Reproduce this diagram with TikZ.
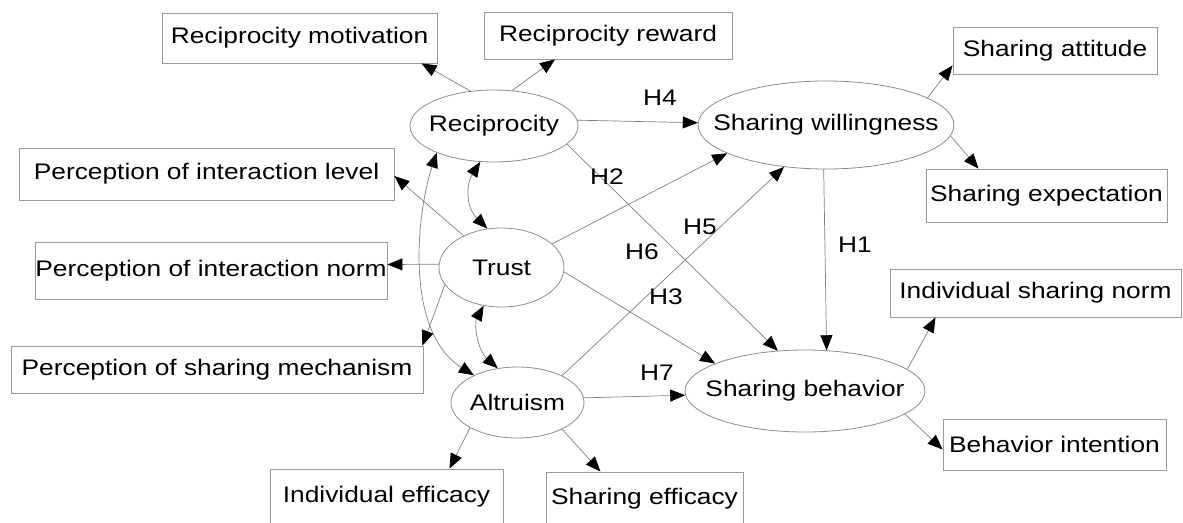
\documentclass[tikz,border=0pt]{standalone}
\usepackage{fontspec}
\setmainfont{Liberation Sans}[FakeStretch=1.17]
\usetikzlibrary{shapes.geometric,arrows.meta}
\begin{document}
\begin{tikzpicture}[x=1pt,y=-1pt,
  lbfont/.style={font=\fontsize{22.5}{27}\selectfont},
  obox/.style={draw=black!40, line width=0.8pt, rectangle, inner sep=0pt, lbfont, text=black},
  lat/.style={draw=black!45, line width=0.8pt, ellipse, inner sep=0pt, lbfont, text=black},
  arr/.style={draw=black!50, line width=0.7pt, -{Triangle[length=15pt,width=12pt,color=black]}},
  darr/.style={draw=black!50, line width=0.7pt, {Triangle[length=15pt,width=12pt,color=black]}-{Triangle[length=15pt,width=12pt,color=black]}},
  hlab/.style={lbfont, inner sep=0pt, text=black}
]
\useasboundingbox (0,0) rectangle (1183,522);
\clip (0,0) rectangle (1183,522);
\fill[white] (0,0) rectangle (1183,522);

% latent variables
\node[lat, minimum width=168pt, minimum height=72pt] (rec) at (494,126) {\makebox[0pt]{Reciprocity}};
\node[lat, minimum width=256pt, minimum height=88pt] (sw) at (826,125) {\makebox[0pt]{Sharing willingness}};
\node[lat, minimum width=125pt, minimum height=79pt] (trust) at (501.5,267.5) {\makebox[0pt]{Trust}};
\node[lat, minimum width=133pt, minimum height=71pt] (alt) at (517.5,402.5) {\makebox[0pt]{Altruism}};
\node[lat, minimum width=240pt, minimum height=82pt] (sb) at (805,391) {\makebox[0pt]{Sharing behavior}};

% indicators
\node[obox, minimum width=275pt, minimum height=50pt] (rm) at (299.5,38) {Reciprocity motivation};
\node[obox, minimum width=248pt, minimum height=47pt] (rr) at (608,35.5) {Reciprocity reward};
\node[obox, minimum width=204pt, minimum height=47pt] (sa) at (1055,50.5) {Sharing attitude};
\node[obox, minimum width=241pt, minimum height=53pt] (se) at (1046.5,195.5) {Sharing expectation};
\node[obox, minimum width=375pt, minimum height=52pt] (pil) at (206.5,174) {Perception of interaction level};
\node[obox, minimum width=352pt, minimum height=57pt] (pin) at (211,270.5) {Perception of interaction norm};
\node[obox, minimum width=412pt, minimum height=47pt] (psm) at (217,369.5) {Perception of sharing mechanism};
\node[obox, minimum width=291pt, minimum height=48pt] (isn) at (1035.5,293) {Individual sharing norm};
\node[obox, minimum width=223pt, minimum height=51pt] (bi) at (1054.5,444.5) {Behavior intention};
\node[obox, minimum width=233pt, minimum height=55pt] (ie) at (386.5,496.5) {Individual efficacy};
\node[obox, minimum width=197pt, minimum height=53pt] (se2) at (644.5,498.5) {Sharing efficacy};

% measurement arrows
\draw[arr] (rec.124) -- ([xshift=122pt]rm.south);
\draw[arr] (rec.63) -- ([xshift=-53pt]rr.south);
\draw[arr] (sw.15) -- ([yshift=9pt]sa.south west);
\draw[arr] (sw.-5.5) -- ([xshift=-68pt]se.north);
\draw[arr] (trust.140) -- ([yshift=-2pt]pil.east);
\draw[arr] (trust.177.7) -- ([yshift=6pt]pin.east);
\draw[arr] (trust.197) -- ([xshift=-1pt]psm.north east);
\draw[arr] (alt.208) -- ([xshift=63pt]ie.north);
\draw[arr] (alt.-31.7) -- ([xshift=-44pt]se2.north);
\draw[arr] (sb.12.2) -- ([xshift=-100pt]isn.south);
\draw[arr] (sb.-13.9) -- ([yshift=-5pt]bi.west);

% structural paths
\draw[arr] (rec.4) -- (sw.179);
\draw[arr] (rec.-14.4) -- (sb.124.3);
\draw[arr] (trust.25.4) -- (sw.196.7);
\draw[arr] (alt.31.7) -- (sw.-135);
\draw[arr] (trust.-4.1) -- (sb.163.6);
\draw[arr] (sw.-93.9) -- (sb.62.9);
\draw[arr] (alt.4.7) -- (sb.182.9);

% correlations
\draw[darr] (rec.-111) .. controls +(-14,22) and +(-22,-22) .. (trust.110);
\draw[darr] (trust.-115) .. controls +(-10,18) and +(-20,-18) .. (alt.120);
\draw[darr] (rec.205.8) .. controls +(-20,60) and +(-70,-44) .. (alt.148.9);

% hypothesis labels
\node[hlab] (h4) at (660,98) {H4};
\node[hlab] (h2) at (607,177) {H2};
\node[hlab] (h5) at (700,227) {H5};
\node[hlab] (h6) at (642,252) {H6};
\node[hlab] (h3) at (666,297) {H3};
\node[hlab] (h7) at (657,373) {H7};
\node[hlab] (h1) at (855,245) {H1};
\end{tikzpicture}
\end{document}
